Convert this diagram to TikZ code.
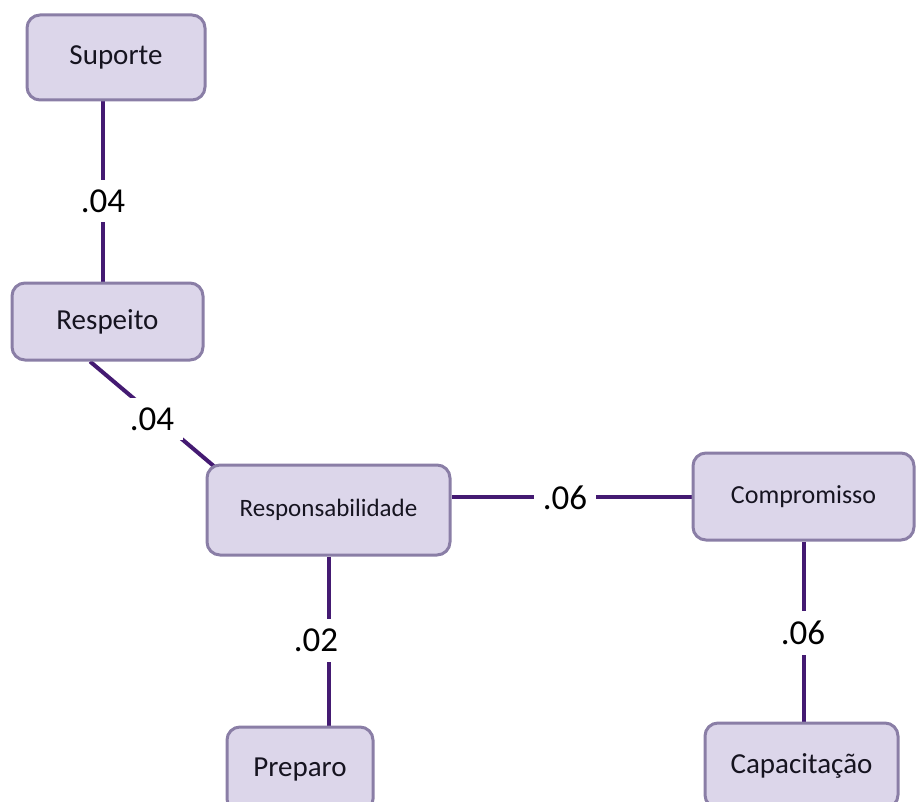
\documentclass[tikz,border=0pt]{standalone}
\usepackage{fontspec}
\setmainfont{Carlito}
\usetikzlibrary{backgrounds,calc}

\definecolor{boxfill}{RGB}{220,214,234}
\definecolor{boxline}{RGB}{138,126,166}
\definecolor{linkcol}{RGB}{68,26,114}
\definecolor{txt}{RGB}{22,20,32}

\tikzset{
  box/.style={draw=boxline, line width=3pt, fill=boxfill, rounded corners=13pt,
    text=txt, font=\fontsize{29}{32}\selectfont, inner sep=0pt},
  link/.style={draw=linkcol, line width=4pt},
  weight/.style={fill=white, text=black, inner xsep=9pt, inner ysep=10pt,
    font=\fontsize{35}{38}\selectfont}
}

\begin{document}
\begin{tikzpicture}[x=1pt, y=-1pt]
  \useasboundingbox (0,0) rectangle (917,802);
  \clip (0,0) rectangle (917,802);

  % concept boxes
  \node[box, minimum width=178pt, minimum height=85pt] (sup) at (116,57.5) {Suporte};
  \node[box, minimum width=191pt, minimum height=77pt] (rsp) at (107.5,321.5) {Respeito};
  \node[box, minimum width=243pt, minimum height=90pt,
        font=\fontsize{25}{28}\selectfont] (rby) at (328.5,510) {Responsabilidade};
  \node[box, minimum width=221pt, minimum height=87pt,
        font=\fontsize{26}{29}\selectfont] (cmp) at (803.5,496.5) {Compromisso};
  \node[box, minimum width=146pt, minimum height=85pt] (prp) at (300,769.5) {Preparo};
  \node[box, minimum width=193pt, minimum height=85pt] (cap) at (801.5,765.5) {Capacitação};

  % weights on the links
  \node[weight] (w1) at (103,201) {.04};
  \node[weight] (w2) at (152,419) {.04};
  \node[weight] (w3) at (565,498) {.06};
  \node[weight] (w4) at (316,640) {.02};
  \node[weight] (w5) at (803,633) {.06};

  % links, drawn behind boxes and weights
  \begin{scope}[on background layer]
    \coordinate (s1) at ($(sup.south west)!0.427!(sup.south east)$);
    \draw[link] (s1) -- (s1 |- rsp.north);
    \coordinate (s2) at ($(rsp.south west)!0.41!(rsp.south east)$);
    \draw[link] (s2) -- ($(rby.north west)+(10,4)$);
    \draw[link] (rby.east |- cmp.west) -- (cmp.west);
    \draw[link] (rby.south) -- (rby.south |- prp.north);
    \draw[link] (cmp.south) -- (cmp.south |- cap.north);
  \end{scope}
\end{tikzpicture}
\end{document}
